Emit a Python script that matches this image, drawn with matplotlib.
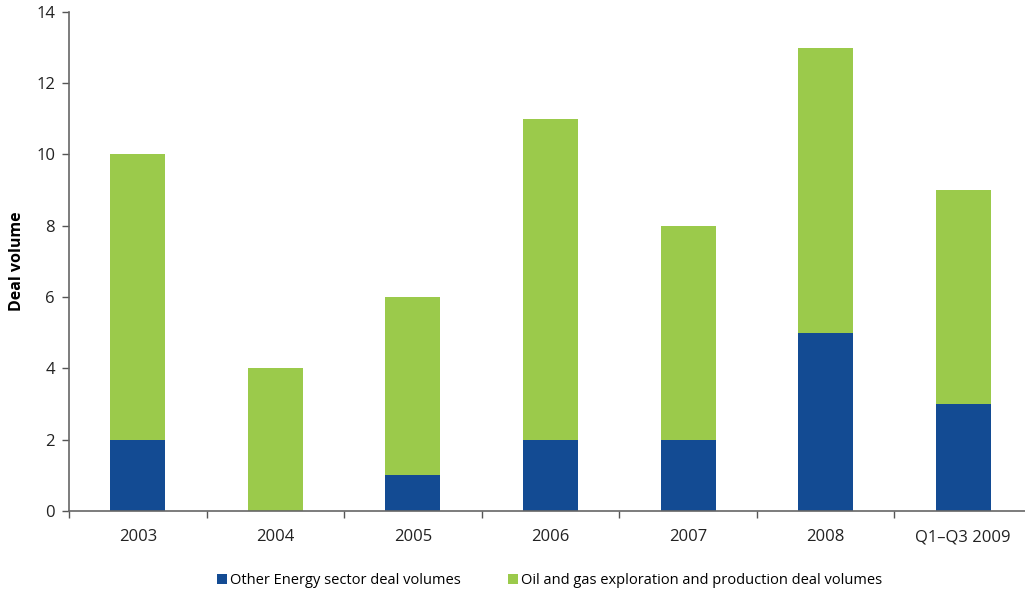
import matplotlib
matplotlib.use("Agg")
import matplotlib.pyplot as plt
from matplotlib.patches import Patch
import numpy as np

categories = ["2003", "2004", "2005", "2006", "2007", "2008", "Q1\u2013Q3 2009"]
other_energy = [2, 0, 1, 2, 2, 5, 3]
oil_gas = [8, 4, 5, 9, 6, 8, 6]

blue = "#134B93"
green = "#9BCA4B"

plt.rcParams["font.family"] = ["Open Sans", "DejaVu Sans"]

fig = plt.figure(figsize=(10.25, 5.94), dpi=100)
# the plot area runs slightly past the right edge of the figure
ax = fig.add_axes([0.0673, 0.1397, 0.9395, 0.8403])

x = np.arange(len(categories))
ax.bar(x, other_energy, width=0.4, color=blue, label="Other Energy sector deal volumes")
ax.bar(x, oil_gas, width=0.4, bottom=other_energy, color=green,
       label="Oil and gas exploration and production deal volumes")

ax.set_xlim(-0.5, len(categories) - 0.5)
ax.set_ylim(0, 14)
ax.set_yticks(range(0, 15, 2))
ax.set_xticks(x)
ax.set_xticklabels(categories, fontsize=12, color="#222222")
ax.tick_params(axis="x", which="major", length=0, pad=13)
ax.set_xticks(np.arange(-0.5, len(categories)), minor=True)
ax.tick_params(axis="x", which="minor", length=5, width=1, color="#555555")
ax.tick_params(axis="y", labelsize=12, length=5, width=1, color="#555555",
               labelcolor="#222222", pad=5)

for side in ("top", "right"):
    ax.spines[side].set_visible(False)
for side in ("left", "bottom"):
    ax.spines[side].set_color("#666666")
    ax.spines[side].set_linewidth(1.2)

ax.set_ylabel("Deal volume", fontsize=11.5, fontweight="bold", labelpad=8)

handles = [Patch(facecolor=blue), Patch(facecolor=green)]
fig.legend(handles, ["Other Energy sector deal volumes",
                     "Oil and gas exploration and production deal volumes"],
           loc="center", bbox_to_anchor=(0.536, 0.022), ncol=2, frameon=False,
           fontsize=10.5, handlelength=0.7, handleheight=0.7, handletextpad=0.2,
           columnspacing=3.2)

fig.savefig("out.png", dpi=100)
